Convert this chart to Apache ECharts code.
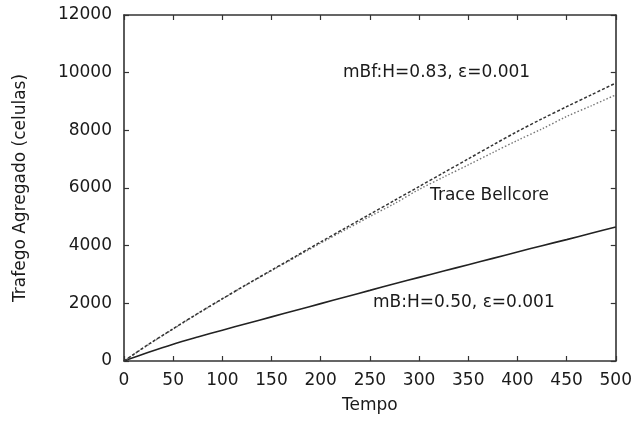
<!DOCTYPE html>
<html>
<head>
<meta charset="utf-8">
<script src="https://cdn.jsdelivr.net/npm/echarts@6/dist/echarts.min.js"></script>
<style>
html,body{margin:0;padding:0;background:#fff;}
#chart{width:635px;height:423px;}
</style>
</head>
<body>
<div id="chart"></div>
<script>
// Data
var tempo = [0, 25, 50, 75, 100, 125, 150, 175, 200, 225, 250, 275, 300, 325, 350, 375, 400, 425, 450, 475, 500];
var mbfH083 = [0, 580, 1120, 1650, 2160, 2660, 3150, 3640, 4130, 4610, 5090, 5570, 6050, 6530, 7010, 7490, 7960, 8400, 8820, 9230, 9640];
var traceBellcore = [0, 570, 1110, 1640, 2150, 2650, 3130, 3610, 4090, 4550, 5010, 5460, 5950, 6380, 6800, 7230, 7650, 8050, 8480, 8850, 9230];
var mbH050 = [0, 300, 580, 830, 1070, 1300, 1530, 1760, 1990, 2220, 2450, 2680, 2900, 3120, 3340, 3560, 3780, 4000, 4210, 4430, 4650];
var xTicks = {min: 0, max: 500, interval: 50};
var yTicks = {min: 0, max: 12000, interval: 2000};
var labels = {
  xName: 'Tempo',
  yName: 'Trafego Agregado (celulas)',
  mbf: 'mBf:H=0.83, \u03b5=0.001',
  trace: 'Trace Bellcore',
  mb: 'mB:H=0.50, \u03b5=0.001'
};

function pairs(xs, ys) { return xs.map(function (x, i) { return [x, ys[i]]; }); }

var FONT = 'DejaVu Sans';
var TXT = '#1a1a1a';
var AX = '#333';
var plain = function (v) { return String(v); };

var chart = echarts.init(document.getElementById('chart'), null, {renderer: 'canvas'});
chart.setOption({
  backgroundColor: '#fff',
  animation: false,
  grid: {left: 124, right: 14, top: 15, bottom: 62, containLabel: false},
  xAxis: [{
    type: 'value', min: xTicks.min, max: xTicks.max, interval: xTicks.interval,
    name: labels.xName, nameLocation: 'middle', nameGap: 36,
    nameTextStyle: {fontFamily: FONT, fontSize: 17, color: TXT},
    axisLine: {show: true, onZero: false, lineStyle: {color: AX, width: 1.6}},
    axisTick: {show: true, inside: true, length: 5, lineStyle: {color: AX, width: 1.2}},
    axisLabel: {fontFamily: FONT, fontSize: 17, color: TXT, margin: 11, formatter: plain},
    splitLine: {show: false}
  }, {
    type: 'value', position: 'top', min: xTicks.min, max: xTicks.max, interval: xTicks.interval,
    axisLine: {show: true, onZero: false, lineStyle: {color: AX, width: 1.6}},
    axisTick: {show: true, inside: true, length: 5, lineStyle: {color: AX, width: 1.2}},
    axisLabel: {show: false}, splitLine: {show: false}
  }],
  yAxis: [{
    type: 'value', min: yTicks.min, max: yTicks.max, interval: yTicks.interval,
    name: labels.yName, nameLocation: 'middle', nameGap: 95, nameRotate: 90,
    nameTextStyle: {fontFamily: FONT, fontSize: 17, color: TXT},
    axisLine: {show: true, onZero: false, lineStyle: {color: AX, width: 1.6}},
    axisTick: {show: true, inside: true, length: 5, lineStyle: {color: AX, width: 1.2}},
    axisLabel: {fontFamily: FONT, fontSize: 17, color: TXT, margin: 12, formatter: plain},
    splitLine: {show: false}
  }, {
    type: 'value', position: 'right', min: yTicks.min, max: yTicks.max, interval: yTicks.interval,
    axisLine: {show: true, onZero: false, lineStyle: {color: AX, width: 1.6}},
    axisTick: {show: true, inside: true, length: 5, lineStyle: {color: AX, width: 1.2}},
    axisLabel: {show: false}, splitLine: {show: false}
  }],
  series: [{
    name: 'mB', type: 'line', showSymbol: false, symbol: 'none', smooth: 0.3,
    data: pairs(tempo, mbH050),
    lineStyle: {color: '#222', width: 1.6, type: 'solid'}
  }, {
    name: 'trace', type: 'line', showSymbol: false, symbol: 'none', smooth: 0.3,
    data: pairs(tempo, traceBellcore),
    lineStyle: {color: '#777', width: 1.4, type: [1.5, 2]}
  }, {
    name: 'mBf', type: 'line', showSymbol: false, symbol: 'none', smooth: 0.3,
    data: pairs(tempo, mbfH083),
    lineStyle: {color: '#333', width: 1.5, type: [3, 2]}
  }],
  graphic: [{
    type: 'text', left: 343, top: 64,
    style: {text: labels.mbf, fill: TXT, font: '17px "DejaVu Sans"'}
  }, {
    type: 'text', left: 430, top: 187,
    style: {text: labels.trace, fill: TXT, font: '17px "DejaVu Sans"'}
  }, {
    type: 'text', left: 373, top: 294,
    style: {text: labels.mb, fill: TXT, font: '17px "DejaVu Sans"'}
  }]
});
</script>
</body>
</html>
